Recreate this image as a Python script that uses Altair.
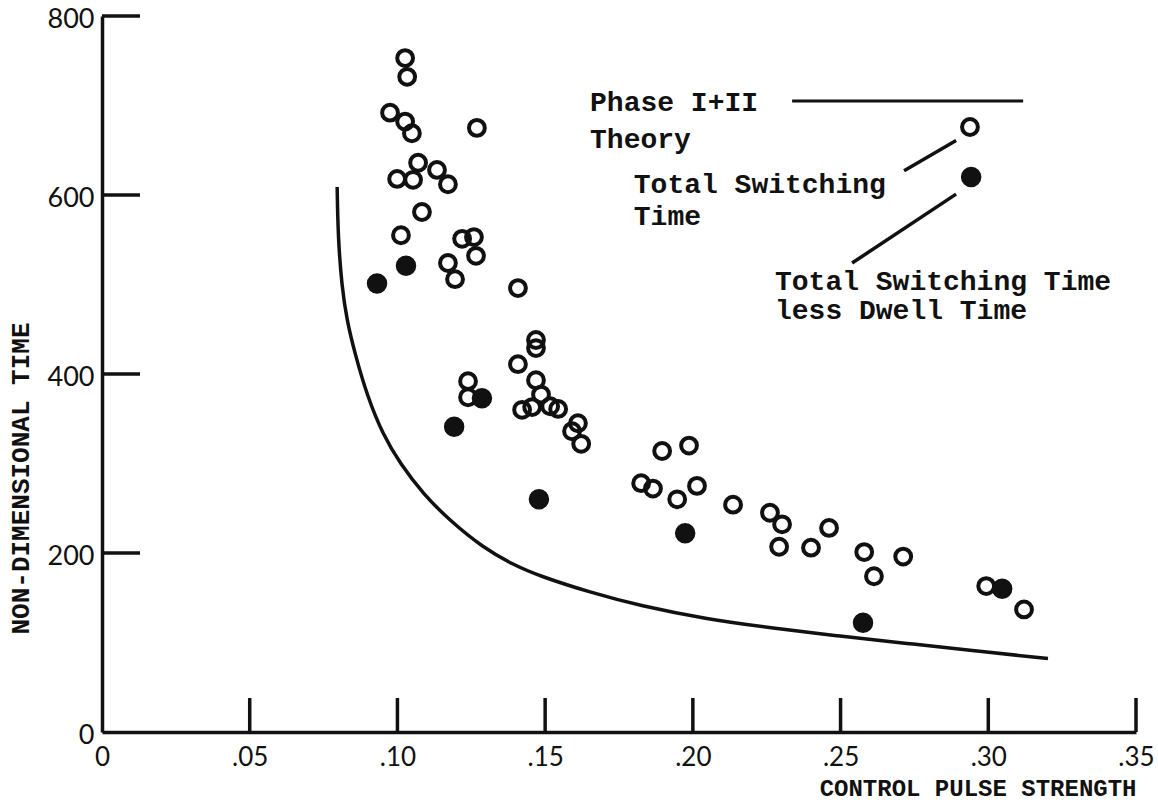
import json
import altair as alt
import pandas as pd

# ---------------- data ----------------
open_x = [0.1026, 0.1033, 0.0975, 0.1026, 0.1049, 0.1269, 0.1070, 0.1134, 0.0999, 0.1053,
          0.1171, 0.1083, 0.1012, 0.1219, 0.1259, 0.1266, 0.1171, 0.1195, 0.1408, 0.1469,
          0.1469, 0.1408, 0.1239, 0.1239, 0.1469, 0.1486, 0.1422, 0.1456, 0.1517, 0.1544,
          0.1611, 0.1591, 0.1622, 0.1896, 0.1987, 0.1825, 0.1865, 0.1947, 0.2014, 0.2136,
          0.2261, 0.2302, 0.2292, 0.2400, 0.2461, 0.2580, 0.2613, 0.2712, 0.2993, 0.3121]
open_y = [753, 732, 692, 682, 669, 675, 636, 628, 618, 617,
          612, 581, 555, 551, 553, 532, 524, 506, 496, 438,
          429, 411, 392, 374, 393, 377, 360, 363, 364, 361,
          345, 336, 322, 314, 320, 278, 272, 260, 275, 254,
          245, 232, 207, 206, 228, 201, 174, 196, 163, 137]

filled_x = [0.0931, 0.1029, 0.1286, 0.1192, 0.1479, 0.1974, 0.2576, 0.3047]
filled_y = [501, 521, 373, 341, 260, 222, 122, 160]

theory_x = [0.0796, 0.0799, 0.0812, 0.0829, 0.0856, 0.0897, 0.0951, 0.1009, 0.1087, 0.1178,
            0.1290, 0.1391, 0.1483, 0.1652, 0.1821, 0.2048, 0.2271, 0.2498, 0.2725, 0.2949, 0.3202]
theory_y = [609, 553, 497, 460, 423, 376, 332, 300, 266, 236,
            206, 187, 174, 156, 141, 126, 116, 107, 99, 91, 82]

x_tick_values = [0, 0.05, 0.10, 0.15, 0.20, 0.25, 0.30, 0.35]
x_tick_labels = ["0", ".05", ".10", ".15", ".20", ".25", ".30", ".35"]
y_tick_values = [0, 200, 400, 600, 800]
y_tick_labels = ["0", "200", "400", "600", "800"]

x_title = "CONTROL PULSE STRENGTH"
y_title = "NON-DIMENSIONAL TIME"

legend_text = ["Phase I+II", "Theory", "Total Switching", "Time",
               "Total Switching Time", "less Dwell Time"]
legend_text_x = [0.1652, 0.1652, 0.1800, 0.1800, 0.2278, 0.2278]
legend_text_y = [703, 661, 611, 575, 503, 470]

legend_line_x = [0.2336]
legend_line_x2 = [0.3118]
legend_line_y = [705]

leader_x = [0.2715, 0.2539]
leader_y = [627, 524]
leader_x2 = [0.2891, 0.2891]
leader_y2 = [661, 601]

legend_open_x = [0.2938]
legend_open_y = [676]
legend_filled_x = [0.2942]
legend_filled_y = [620]

# ---------------- chart ----------------
INK = "#111111"
MONO = "Liberation Mono"
SANS = "Lato"

xs = alt.Scale(domain=[0, 0.35], nice=False, zero=False)
ys = alt.Scale(domain=[0, 800], nice=False, zero=False)


def label_expr(vals, labels):
    return f"{json.dumps(labels)}[indexof({json.dumps(vals)}, datum.value)]"


x_axis = alt.Axis(
    values=x_tick_values, labelExpr=label_expr(x_tick_values, x_tick_labels),
    ticks=False, tickSize=0, grid=False,
    domainColor=INK, domainWidth=3.5,
    labelFont=SANS, labelFontSize=26, labelColor=INK, labelPadding=12,
    labelFlush=False, labelOverlap=False,
    title=x_title, titleFont=MONO, titleFontSize=24, titleFontWeight="bold",
    titleColor=INK, titleAnchor="end", titleAlign="right", titleY=68,
    titleBaseline="bottom",
)
y_axis = alt.Axis(
    values=y_tick_values, labelExpr=label_expr(y_tick_values, y_tick_labels),
    ticks=False, tickSize=0, grid=False,
    domainColor=INK, domainWidth=3.5,
    labelFont=SANS, labelFontSize=27, labelColor=INK, labelPadding=8,
    labelOffset=3, labelFlush=False, labelOverlap=False, labelAlign="right",
    labelBaseline="middle",
    title=y_title, titleFont=MONO, titleFontSize=26, titleFontWeight="bold",
    titleColor=INK, titleAngle=270, titleX=-82, titleY=462,
    titleAlign="center", titleBaseline="middle",
)

X = alt.X("x:Q", scale=xs, axis=x_axis)
Y = alt.Y("y:Q", scale=ys, axis=y_axis)

theory_df = pd.DataFrame({"x": theory_x, "y": theory_y})
open_df = pd.DataFrame({"x": open_x + legend_open_x, "y": open_y + legend_open_y})
filled_df = pd.DataFrame({"x": filled_x + legend_filled_x, "y": filled_y + legend_filled_y})

theory = alt.Chart(theory_df).mark_line(
    color=INK, strokeWidth=3.5, interpolate="basis"
).encode(x=X, y=Y)

opens = alt.Chart(open_df).mark_point(
    shape="circle", filled=False, color=INK, strokeWidth=4, size=250, opacity=1
).encode(x=X, y=Y)

fills = alt.Chart(filled_df).mark_point(
    shape="circle", filled=True, color=INK, size=420, opacity=1, strokeWidth=0
).encode(x=X, y=Y)

xticks = alt.Chart(pd.DataFrame({"x": x_tick_values[1:]})).mark_rule(
    color=INK, strokeWidth=3.5
).encode(x=X, y=alt.value(716), y2=alt.value(682))

yticks = alt.Chart(pd.DataFrame({"y": y_tick_values[1:]})).mark_rule(
    color=INK, strokeWidth=3.5
).encode(y=Y, x=alt.value(0), x2=alt.value(38))

legend_line = alt.Chart(pd.DataFrame({
    "x": legend_line_x, "x2": legend_line_x2, "y": legend_line_y
})).mark_rule(color=INK, strokeWidth=3).encode(x=X, x2="x2:Q", y=Y)

leaders = alt.Chart(pd.DataFrame({
    "x": leader_x, "y": leader_y, "x2": leader_x2, "y2": leader_y2
})).mark_rule(color=INK, strokeWidth=3.5).encode(x=X, y=Y, x2="x2:Q", y2="y2:Q")

texts = alt.Chart(pd.DataFrame({
    "x": legend_text_x, "y": legend_text_y, "t": legend_text
})).mark_text(
    align="left", baseline="middle", font=MONO, fontSize=28, fontWeight="bold", color=INK
).encode(x=X, y=Y, text="t:N")

chart = alt.layer(
    theory, xticks, yticks, legend_line, leaders, opens, fills, texts
).properties(
    width=1034, height=716,
    autosize=alt.AutoSizeParams(type="none"),
    padding={"left": 102, "top": 16, "right": 22, "bottom": 71},
    background="white",
).configure_view(stroke=None)

chart.save("out.html", embed_options={"renderer": "svg", "actions": False})
